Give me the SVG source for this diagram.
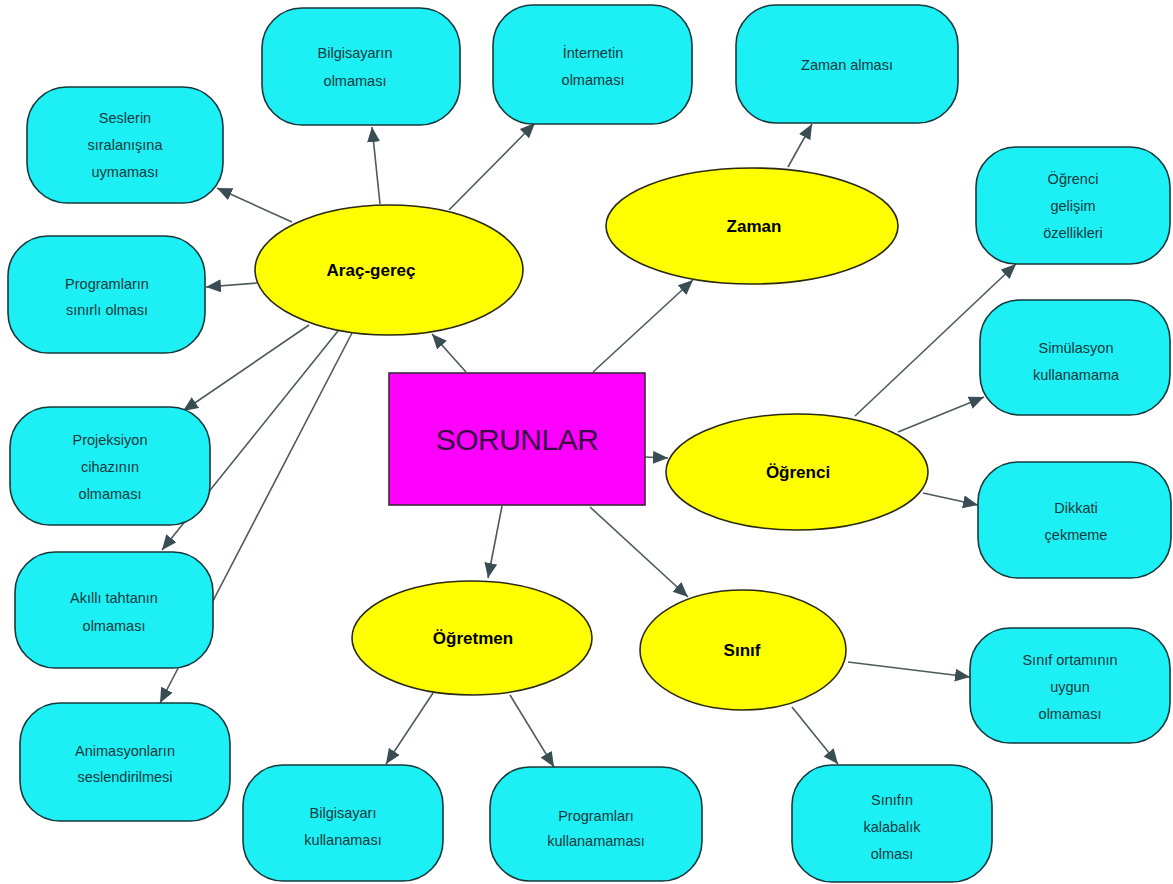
<svg xmlns="http://www.w3.org/2000/svg" width="1173" height="884" viewBox="0 0 1173 884">
<defs>
<marker id="ah" markerUnits="userSpaceOnUse" markerWidth="16" markerHeight="14" refX="15" refY="6.5" orient="auto">
<path d="M0,0 L15,6.5 L0,13 z" fill="#3a4d52"/>
</marker>
<style>
.bg{fill:#ffffff}
.box{fill:#1cf0f4;stroke:#16383c;stroke-width:1.6}
.ell{fill:#ffff00;stroke:#2a2a10;stroke-width:1.6}
.main{fill:#ff00ff;stroke:#3a2a3a;stroke-width:1.6}
.c{stroke:#4c5a5e;stroke-width:1.6;fill:none;marker-end:url(#ah)}
.t{font-family:"Liberation Sans",Arial,sans-serif;font-size:14.5px;fill:#163a3e;text-anchor:middle}
.e{font-family:"Liberation Sans",Arial,sans-serif;font-size:17px;font-weight:bold;fill:#000;text-anchor:middle}
.m{font-family:"Liberation Sans",Arial,sans-serif;font-size:30px;fill:#3b0a45;text-anchor:middle;letter-spacing:-0.5px}
</style>
</defs>
<rect class="bg" width="1173" height="884"/>
<g id="connectors">
<line class="c" x1="466" y1="372" x2="432" y2="334"/>
<line class="c" x1="593" y1="372" x2="693" y2="280"/>
<line class="c" x1="645" y1="457" x2="668" y2="458"/>
<line class="c" x1="502" y1="506" x2="488" y2="578"/>
<line class="c" x1="590" y1="507" x2="688" y2="597"/>
<line class="c" x1="292" y1="222" x2="217" y2="188"/>
<line class="c" x1="380" y1="204" x2="372" y2="127"/>
<line class="c" x1="449" y1="210" x2="535" y2="123"/>
<line class="c" x1="257" y1="283" x2="206" y2="287"/>
<line class="c" x1="309" y1="325" x2="183" y2="411"/>
<line class="c" x1="338" y1="331" x2="162" y2="550"/>
<line class="c" x1="352" y1="333" x2="160" y2="703"/>
<line class="c" x1="788" y1="167" x2="812" y2="124"/>
<line class="c" x1="855" y1="416" x2="1016" y2="264"/>
<line class="c" x1="898" y1="432" x2="984" y2="397"/>
<line class="c" x1="923" y1="493" x2="978" y2="505"/>
<line class="c" x1="433" y1="693" x2="386" y2="764"/>
<line class="c" x1="510" y1="695" x2="554" y2="767"/>
<line class="c" x1="848" y1="662" x2="970" y2="677"/>
<line class="c" x1="792" y1="707" x2="838" y2="764"/>
</g>
<g id="sorunlar">
<rect class="main" x="389" y="373" width="256" height="132"/>
<text class="m" x="517" y="450">SORUNLAR</text>
</g>
<g id="arac-gerec">
<ellipse class="ell" cx="389" cy="270" rx="134" ry="65"/>
<text class="e" x="371" y="276">Araç-gereç</text>
</g>
<g id="zaman">
<ellipse class="ell" cx="752" cy="226" rx="146" ry="58"/>
<text class="e" x="754" y="232">Zaman</text>
</g>
<g id="ogrenci">
<ellipse class="ell" cx="797" cy="472" rx="131" ry="58"/>
<text class="e" x="798" y="478">Öğrenci</text>
</g>
<g id="ogretmen">
<ellipse class="ell" cx="472" cy="638" rx="120" ry="57"/>
<text class="e" x="473" y="644">Öğretmen</text>
</g>
<g id="sinif">
<ellipse class="ell" cx="743" cy="650" rx="103" ry="60"/>
<text class="e" x="742" y="656">Sınıf</text>
</g>
<g id="seslerin">
<rect class="box" x="27" y="87" width="196" height="116" rx="40" ry="40"/>
<text class="t" x="125" y="123">Seslerin</text>
<text class="t" x="125" y="150">sıralanışına</text>
<text class="t" x="125" y="177">uymaması</text>
</g>
<g id="bilgisayarin">
<rect class="box" x="262" y="8" width="198" height="117" rx="40" ry="40"/>
<text class="t" x="355" y="58">Bilgisayarın</text>
<text class="t" x="355" y="86">olmaması</text>
</g>
<g id="internetin">
<rect class="box" x="493" y="5" width="199" height="119" rx="40" ry="40"/>
<text class="t" x="593" y="58">İnternetin</text>
<text class="t" x="593" y="85">olmaması</text>
</g>
<g id="zaman-almasi">
<rect class="box" x="736" y="5" width="222" height="118" rx="40" ry="40"/>
<text class="t" x="847" y="70">Zaman alması</text>
</g>
<g id="ogrenci-gelisim">
<rect class="box" x="976" y="147" width="194" height="117" rx="40" ry="40"/>
<text class="t" x="1073" y="184">Öğrenci</text>
<text class="t" x="1073" y="211">gelişim</text>
<text class="t" x="1073" y="238">özellikleri</text>
</g>
<g id="simulasyon">
<rect class="box" x="980" y="300" width="190" height="115" rx="40" ry="40"/>
<text class="t" x="1076" y="353">Simülasyon</text>
<text class="t" x="1076" y="380">kullanamama</text>
</g>
<g id="dikkati">
<rect class="box" x="978" y="462" width="193" height="116" rx="40" ry="40"/>
<text class="t" x="1076" y="513">Dikkati</text>
<text class="t" x="1076" y="540">çekmeme</text>
</g>
<g id="sinif-ortami">
<rect class="box" x="970" y="628" width="200" height="115" rx="40" ry="40"/>
<text class="t" x="1070" y="665">Sınıf ortamının</text>
<text class="t" x="1070" y="692">uygun</text>
<text class="t" x="1070" y="719">olmaması</text>
</g>
<g id="sinifin-kalabalik">
<rect class="box" x="792" y="765" width="200" height="117" rx="40" ry="40"/>
<text class="t" x="892" y="805">Sınıfın</text>
<text class="t" x="892" y="832">kalabalık</text>
<text class="t" x="892" y="859">olması</text>
</g>
<g id="programlari">
<rect class="box" x="490" y="767" width="212" height="114" rx="40" ry="40"/>
<text class="t" x="596" y="821">Programları</text>
<text class="t" x="596" y="846">kullanamaması</text>
</g>
<g id="bilgisayari">
<rect class="box" x="243" y="765" width="200" height="116" rx="40" ry="40"/>
<text class="t" x="343" y="818">Bilgisayarı</text>
<text class="t" x="343" y="845">kullanaması</text>
</g>
<g id="animasyonlarin">
<rect class="box" x="20" y="703" width="210" height="118" rx="40" ry="40"/>
<text class="t" x="125" y="756">Animasyonların</text>
<text class="t" x="125" y="782">seslendirilmesi</text>
</g>
<g id="akilli">
<rect class="box" x="15" y="552" width="198" height="116" rx="40" ry="40"/>
<text class="t" x="114" y="603">Akıllı tahtanın</text>
<text class="t" x="114" y="631">olmaması</text>
</g>
<g id="projeksiyon">
<rect class="box" x="10" y="407" width="200" height="118" rx="40" ry="40"/>
<text class="t" x="110" y="445">Projeksiyon</text>
<text class="t" x="110" y="472">cihazının</text>
<text class="t" x="110" y="499">olmaması</text>
</g>
<g id="programlarin">
<rect class="box" x="8" y="236" width="197" height="117" rx="40" ry="40"/>
<text class="t" x="107" y="289">Programların</text>
<text class="t" x="107" y="315">sınırlı olması</text>
</g>
</svg>
